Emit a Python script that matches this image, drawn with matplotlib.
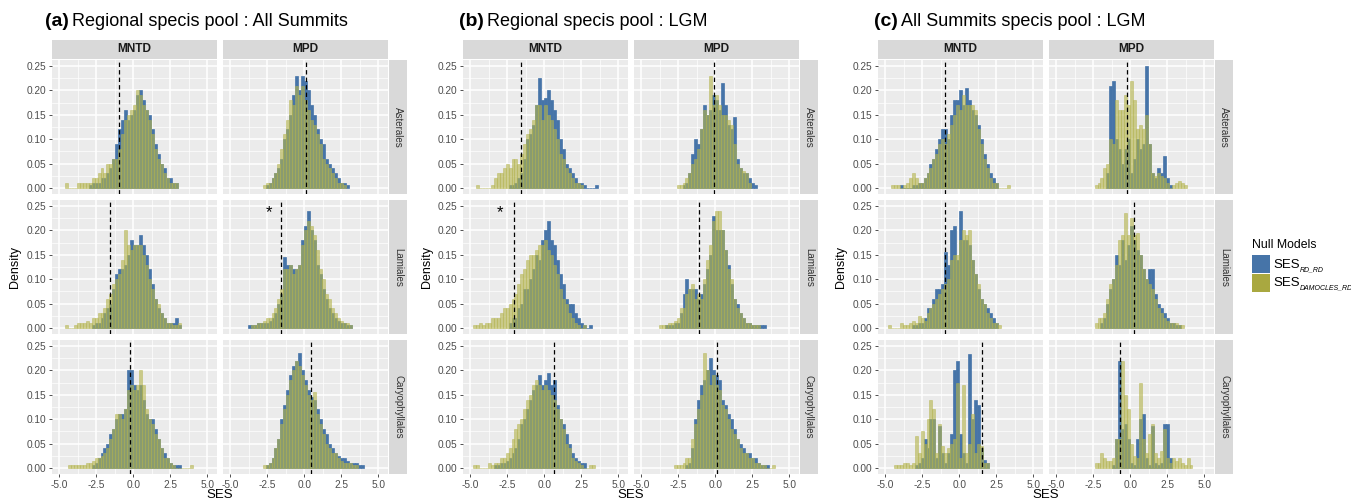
import numpy as np
import matplotlib
matplotlib.use('Agg')
import matplotlib.pyplot as plt
from matplotlib.patches import Rectangle

plt.rcParams['font.family'] = ['Liberation Sans', 'DejaVu Sans']

# histogram bins are 0.2 SES wide; each series = (left edge of first bin, heights in density x100)
BIN = 0.2
orders = ['Asterales', 'Lamiales', 'Caryophyllales']
metrics = ['MNTD', 'MPD']
titles = [('(a)', 'Regional specis pool : All Summits'),
          ('(b)', 'Regional specis pool : LGM'),
          ('(c)', 'All Summits specis pool : LGM')]
legend_title = 'Null Models'
legend_subs = ['RD_RD', 'DAMOCLES_RD']

# (a) Regional pool : All Summits
a_mntd_ast_rd = (-3.0, [0.5,1,1,1,2,2,3,4,6,9,12,14,16,14,15,16,19,20,18,16,15,12,9,7,5,4,2,2,1,1])
a_mntd_ast_dm = (-4.6, [1,0,0,0,1,1,1,1,1,2,2,3,4,3,5,5,6,6,8,11,14,15,16,17,20,19,17,16,14,11,8,6,5,3,2,1,1,1])
a_mpd_ast_rd = (-2.6, [0.5,1,2,3,4,6,10,12,15,19,23,20,23,22,20,17,15,12,10,9,6,5,4,3,2,1,1,0.5])
a_mpd_ast_dm = (-2.8, [0.5,1,1,2,3,5,8,11,14,18,17,21,19,21,18,16,14,13,11,9,6,5,4,3,2,1,1,0.5])
a_mntd_lam_rd = (-2.8, [0.5,1,1,2,3,4,5,8,11,12,12,13,15,18,17,17,19,17,15,12,9,6,4,3,2,1,1,1,2,0.5])
a_mntd_lam_dm = (-4.6, [0.5,0,0,0.5,1,1,1,1.5,1,2,2,3,3,4,6,7,9,10,11,14,20,17,16,17,17,17,15,13,10,8,6,5,3,2,1,1,0.5,0.5,1])
a_mpd_lam_rd = (-3.8, [0.5,0.5,0.5,1,1,1,1,1.5,2,3,5,7,14.5,13,13,12,12,13,18,21,24,20,18,13,11,8,6,4,3,2,1.5,1,1,0.5,0.5])
a_mpd_lam_dm = (-3.6, [0.5,0.5,1,1,1.5,2,2,3,4,6,8,12,12,13,11,12,13,17,20,22,21,19,16,12,10,7,6,4,3,2,1.5,1,1,0.5])
a_mntd_car_rd = (-2.8, [0.5,1,2,3,4,5,7,8,10,11,11,12,20,20,17,16,17,14,11,10,10,8,6,4,3,2,1,0.5,0.5,0.5])
a_mntd_car_dm = (-4.4, [0.5,0.5,0.5,0.5,0.5,0.5,1,1,1.5,2,2,2.5,3,4,6,8,11,11,10,12,16,17,16,17,20,17,12,10,9,7,6,4,2,2,1,0.5,0,0,0,0,0,0.5])
a_mpd_car_rd = (-2.6, [0.5,1,2,4,6,10,13,16,19,21,22,23.5,20,18,16,14.5,14,12,10,8,7,5,4,3,2.5,2,2,1.5,1,1,1,0.5,0.5])
a_mpd_car_dm = (-2.8, [0.5,0.5,1,2,4,6,9,12,15,18,20,22,21,19,17,15,14,15.5,11,9,7,5,4,3,3,2,1.5,1,1,1,0.5,0.5])

# (b) Regional pool : LGM
b_mntd_ast_rd = (-2.4, [0.5,0.5,1,2,3,6,10,11,13,17,22.5,18,18.5,20,18,16,14,10,8,5,4,3,2,1,1,0.5,0,0,0,0.5])
b_mntd_ast_dm = (-4.6, [0.5,0,0,0,0,0.5,2,3,3,4,5,4,6,6,5,7,9,11,12,14,17,17,14,17,15,14,12,10,7,6,4,3,2,1,1,0.5])
b_mpd_ast_rd = (-2.2, [0.5,1,3,7,10,9,12,17,15,16,19,18,16,21.5,17,13,12,14.5,6,4,3,3,2,1,0.5])
b_mpd_ast_dm = (-2.6, [0.5,0.5,1,2,3,5,6,8,12,16,15,23,17,19,17,15,15,14,13,9,5,4,3.5,3,1])
b_mntd_lam_rd = (-2.4, [1,2,2,4,5,8,8,10,12,15,14,18,20,22,18,17,14,11,9,6,5,5,3,2,1,0.5,0,0.5])
b_mntd_lam_dm = (-4.8, [0.5,0.5,1,0.5,1,1,2,2,2,3,4,4,5,6,7,9,11,12,14,15,15,16,17,17,18,16,15,13,11,8,6,5,3,2,1,0.5,0,0.5])
b_mpd_lam_rd = (-3.4, [0.5,0.5,0.5,1,1,3,7,10,8,8,8,6,7,9,12,15,23,20,20,20,16,13,9,6,5,3,2,1,1,0.5,0.5,0.5,0.5,0.5])
b_mpd_lam_dm = (-3.8, [0.5,0.5,0.5,1,1,1.5,2,4,4,7,8,9,6,7,6,10,14,17,22,24,24,20,16,12,10,6,4,3,2,1,1,0.5,0.5,0.5])
b_mntd_car_rd = (-3.4, [0.5,0.5,1,1,1.5,2,3,4,6,9,10,12,14,16,17,19,17,18,19.5,17,18,13,10,9,7,5,3,2,1.5,1,1])
b_mntd_car_dm = (-4.8, [0.5,0.5,0,0,0,1,0.5,1,1,2,2,3,4,6,8,9,10,12,14,15,17,18,17,16,17,16,15,14,12,10,8,5,4,2,1.5,1,0.5,0,0,0.5,0.5])
b_mpd_car_rd = (-2.0, [0.5,1,4,10,14,17,18,20,22.5,20,19,18,14,13,11,10,8,6,5,4,3,3,2,2,1,0.5,0.5,0.5])
b_mpd_car_dm = (-2.8, [0.5,0.5,0.5,1,2,2,6,9,12,15,23.5,20,17,19,17,16,13,12,10,8,7,6,4,3,3,2,2,1,1,0.5,0.5,0,0,0.5])

# (c) All Summits pool : LGM
c_mntd_ast_rd = (-4.0, [0.5,0,0,0,0.5,0.5,1,1,2,3,5,6,8,10,12,12,10,15,18,18,20,17,20.5,18,16,15,13,10,7,5,3,2,1])
c_mntd_ast_dm = (-4.6, [0.5,0.5,0.5,0,0.5,1,2,3,2,1,1,2,3,4,6,7,9,10,9,11,13,15,17,16,19,17,17,17,16,12,9,6,4,2,1,1,0,0,0,0.5])
c_mpd_ast_rd = (-1.6, [3,21,22,10,8,5,8,10,3,6,10,8,9,25,9,3,2,4,3,6.5,2,0.5])
c_mpd_ast_dm = (-2.4, [0.5,1,2,4,5,10,9,18,16,16,19,17,22,18,12,13,12,15,9,3,2.5,3,2.5,2,1,0,0.5,1,1.5,1,0.5])
c_mntd_lam_rd = (-3.2, [0.5,0.5,1,1,2,4,4,6,8,8,9,15.5,13,20,21,14,24,18,18,17,14,11,8,6,5,4,3,2,1])
c_mntd_lam_dm = (-4.8, [0.5,0,0,0,1,0.5,0.5,1,1.5,1,2.5,2,1.5,3,4,5,6,7,8,9,10,14,15,15,18,20,19,20,14,11,9,6,5,3,2,1,1,0.5])
c_mpd_lam_rd = (-2.0, [1,2,5,8,10,15,13,18,14,17,21,18,16,15,12,10,12,12,7,5,4,3,2,1,1,0.5,0.5])
c_mpd_lam_dm = (-2.4, [1,2,2,3,6,9,10,13,18,19,23.5,19,22.5,19,19.5,15,12,10,9,8,6,4,3,2,1.5,1,1,1,0.5,0.5])
c_mntd_car_rd = (-3.0, [0.5,1,2,6,4,10,10,2,8.5,3,1,3,7,20,22,7,3,1,23.3,10,14,13,4,1.7,1])
c_mntd_car_dm = (-4.4, [0.5,0.5,0.5,1,1,0.5,1,6.5,3,7.5,5,10,14,12,3,9,4.5,3,4,5,6,17.5,2,17,3,5,11,3,5,4.5,1,1])
c_mpd_car_rd = (-1.2, [0.5,6,22,8,9,6,1,0.5,6,10,11,2,0.5,8.5,1,0.5,1,9,9,2])
c_mpd_car_dm = (-2.4, [1,1,3,2,1.5,1.5,2,6,6,22,15,12,5,2.5,2,17.5,6,3,7,9,3,2,3.5,8,2,1,2,1.5,2,1,0.5,2,0.5])

# observed SES (dashed lines), rows = Asterales, Lamiales, Caryophyllales
a_obs_mntd = [-0.93, -1.55, -0.22]
a_obs_mpd = [0.11, -1.58, 0.47]
b_obs_mntd = [-1.57, -2.06, 0.69]
b_obs_mpd = [-0.06, -1.12, 0.11]
c_obs_mntd = [-0.96, -0.94, 1.54]
c_obs_mpd = [-0.20, 0.29, -0.69]

# significant observations marked with *
stars = [('a', 1, 1, -2.35, 0.236), ('b', 1, 0, -2.96, 0.236)]

groups = {
    'a': [[(a_mntd_ast_rd, a_mntd_ast_dm), (a_mpd_ast_rd, a_mpd_ast_dm)],
          [(a_mntd_lam_rd, a_mntd_lam_dm), (a_mpd_lam_rd, a_mpd_lam_dm)],
          [(a_mntd_car_rd, a_mntd_car_dm), (a_mpd_car_rd, a_mpd_car_dm)]],
    'b': [[(b_mntd_ast_rd, b_mntd_ast_dm), (b_mpd_ast_rd, b_mpd_ast_dm)],
          [(b_mntd_lam_rd, b_mntd_lam_dm), (b_mpd_lam_rd, b_mpd_lam_dm)],
          [(b_mntd_car_rd, b_mntd_car_dm), (b_mpd_car_rd, b_mpd_car_dm)]],
    'c': [[(c_mntd_ast_rd, c_mntd_ast_dm), (c_mpd_ast_rd, c_mpd_ast_dm)],
          [(c_mntd_lam_rd, c_mntd_lam_dm), (c_mpd_lam_rd, c_mpd_lam_dm)],
          [(c_mntd_car_rd, c_mntd_car_dm), (c_mpd_car_rd, c_mpd_car_dm)]],
}
observed = {'a': (a_obs_mntd, a_obs_mpd), 'b': (b_obs_mntd, b_obs_mpd), 'c': (c_obs_mntd, c_obs_mpd)}

BLUE = '#4674A8'
OLIVE = '#B4B44E'
OLIVE_KEY = '#A9A840'
W, H = 1351, 504

fig = plt.figure(figsize=(W / 100, H / 100), dpi=100)
renderer = fig.canvas.get_renderer()


def box(x0, y0, x1, y1):
    return [x0 / W, 1 - y1 / H, (x1 - x0) / W, (y1 - y0) / H]


def bars(ax, series, color, alpha):
    x0, vals = series
    h = np.asarray(vals, dtype=float) / 100
    left = x0 + BIN * np.arange(len(h))
    ax.bar(left, h, width=BIN, align='edge', color=color, edgecolor=color,
           linewidth=0.5, alpha=alpha, zorder=2)


def strip(x0, y0, x1, y1, label, rot=0, bold=False, size=8.6, color='#1A1A1A'):
    s = fig.add_axes(box(x0, y0, x1, y1))
    s.set_facecolor('#D9D9D9')
    s.set_xticks([]); s.set_yticks([])
    for sp in s.spines.values():
        sp.set_visible(False)
    s.text(0.5, 0.5, label, rotation=rot, ha='center', va='center', transform=s.transAxes,
           fontsize=size, fontweight='bold' if bold else 'normal', color=color)


lefts = {'a': 52, 'b': 463, 'c': 878}
row_tops = [60, 200, 340]
PW, GAP, PH = 165, 6, 134

for gi, key in enumerate(['a', 'b', 'c']):
    L = lefts[key]
    obs_mntd, obs_mpd = observed[key]
    for r in range(3):
        top = row_tops[r]
        for c in range(2):
            x0 = L + c * (PW + GAP)
            ax = fig.add_axes(box(x0, top, x0 + PW, top + PH))
            ax.set_facecolor('#EBEBEB')
            rd, dm = groups[key][r][c]
            bars(ax, rd, BLUE, 1.0)
            bars(ax, dm, OLIVE, 0.62)
            vline = (obs_mntd if c == 0 else obs_mpd)[r]
            ax.axvline(vline, color='black', ls=(0, (3.5, 2.5)), lw=0.9, zorder=4)
            ax.set_xlim(-5.47, 5.65)
            ax.set_ylim(-0.0125, 0.2625)
            ax.set_xticks([-5, -2.5, 0, 2.5, 5])
            ax.set_xticks([-3.75, -1.25, 1.25, 3.75], minor=True)
            ax.set_yticks([0, 0.05, 0.10, 0.15, 0.20, 0.25])
            ax.set_yticks([0.025, 0.075, 0.125, 0.175, 0.225], minor=True)
            ax.grid(which='major', color='white', lw=1.1)
            ax.grid(which='minor', color='white', lw=0.5)
            ax.set_axisbelow(True)
            for sp in ax.spines.values():
                sp.set_visible(False)
            ax.tick_params(which='minor', length=0)
            ax.tick_params(which='major', length=2.5, width=0.6, color='#333333',
                           labelsize=7.3, labelcolor='#4D4D4D', pad=1.5)
            ax.tick_params(axis='x', bottom=(r == 2), labelbottom=(r == 2))
            ax.tick_params(axis='y', left=(c == 0), labelleft=(c == 0))
            if c == 0:
                ax.set_yticklabels(['0.00', '0.05', '0.10', '0.15', '0.20', '0.25'])
            if r == 2:
                ax.set_xticklabels(['-5.0', '-2.5', '0.0', '2.5', '5.0'])
            for sk, sr, sc, sx, sy in stars:
                if sk == key and sr == r and sc == c:
                    ax.text(sx, sy, '*', ha='center', va='center', fontsize=12, zorder=5)
            if r == 0:
                strip(x0, 40, x0 + PW, 59, metrics[c], bold=True)
        strip(L + 2 * PW + GAP + 1, top, L + 2 * PW + GAP + 19, top + PH, orders[r],
              rot=-90, size=7, color='#333333')

    # group labels
    fig.text((L - 36.5) / W, 1 - 267 / H, 'Density', rotation=90, ha='center', va='center',
             fontsize=9)
    fig.text((L + PW + GAP / 2) / W, 1 - 495 / H, 'SES', ha='center', va='center', fontsize=9.5)
    tag, rest = titles[gi]
    tx = L - 7 + (3 if gi else 0)
    t = fig.text(tx / W, 1 - 26 / H, tag, fontsize=14, fontweight='bold', va='baseline')
    bb = t.get_window_extent(renderer=renderer)
    fig.text(bb.x1 / W + 3 / W, 1 - 26 / H, rest, fontsize=13, va='baseline')

# legend
fig.text(1252 / W, 1 - 245 / H, legend_title, fontsize=8.8, va='center', ha='left')
for i, (col, sub) in enumerate(zip([BLUE, OLIVE_KEY], legend_subs)):
    ky = 255 + 18.5 * i
    fig.add_artist(Rectangle((1252 / W, 1 - (ky + 18) / H), 18 / W, 18 / H,
                             transform=fig.transFigure, facecolor=col, edgecolor='none'))
    base = ky + 13
    t = fig.text(1273 / W, 1 - base / H, 'SES', fontsize=9.5, va='baseline')
    bb = t.get_window_extent(renderer=renderer)
    fig.text(bb.x1 / W, 1 - (base + 3) / H, sub, fontsize=5.0, style='italic', va='baseline')

fig.savefig('out.png', dpi=100)
